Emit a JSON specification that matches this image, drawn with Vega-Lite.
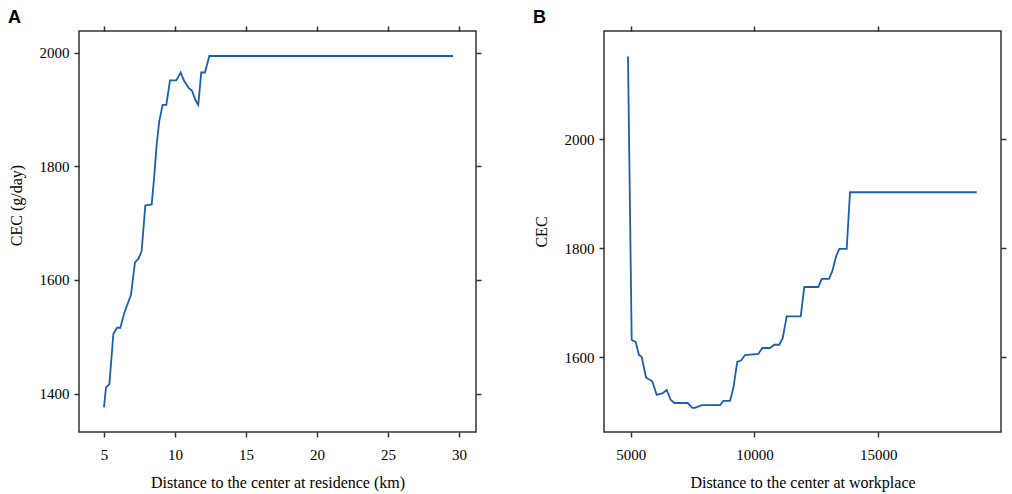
{
  "$schema": "https://vega.github.io/schema/vega-lite/v6.json",
  "background": "white",
  "padding": {"left": 7, "top": 8, "right": 5, "bottom": 2},
  "spacing": 49,
  "config": {
    "font": "Liberation Serif",
    "view": {"stroke": "#333333", "strokeWidth": 1.5},
    "axis": {
      "domain": false,
      "grid": false,
      "tickColor": "#333333",
      "tickWidth": 1.5,
      "tickSize": 5,
      "labelFont": "Liberation Serif",
      "labelFontSize": 15,
      "labelColor": "#000000",
      "labelPadding": 5,
      "titleFont": "Liberation Serif",
      "titleFontSize": 16,
      "titleFontWeight": "normal",
      "titleColor": "#000000"
    },
    "axisX": {"labelPadding": 10, "titlePadding": 12},
    "axisY": {"titlePadding": 15},
    "title": {"font": "Liberation Sans", "fontSize": 18, "fontWeight": "bold", "anchor": "start", "frame": "bounds", "color": "#000000", "offset": -2}
  },
  "datasets": {
    "residence": [
      {"distance": 5, "cec": 1376},
      {"distance": 5.14, "cec": 1411},
      {"distance": 5.38, "cec": 1417},
      {"distance": 5.66, "cec": 1505},
      {"distance": 5.92, "cec": 1516},
      {"distance": 6.15, "cec": 1516},
      {"distance": 6.43, "cec": 1542},
      {"distance": 6.9, "cec": 1574},
      {"distance": 7.18, "cec": 1631},
      {"distance": 7.42, "cec": 1637},
      {"distance": 7.65, "cec": 1651},
      {"distance": 7.91, "cec": 1731},
      {"distance": 8.36, "cec": 1733},
      {"distance": 8.54, "cec": 1783},
      {"distance": 8.71, "cec": 1838},
      {"distance": 8.89, "cec": 1879},
      {"distance": 9.13, "cec": 1908},
      {"distance": 9.39, "cec": 1908},
      {"distance": 9.65, "cec": 1951},
      {"distance": 10.09, "cec": 1951},
      {"distance": 10.4, "cec": 1965},
      {"distance": 10.65, "cec": 1950},
      {"distance": 10.96, "cec": 1938},
      {"distance": 11.2, "cec": 1933},
      {"distance": 11.43, "cec": 1917},
      {"distance": 11.64, "cec": 1908},
      {"distance": 11.85, "cec": 1965},
      {"distance": 12.11, "cec": 1965},
      {"distance": 12.42, "cec": 1994},
      {"distance": 29.58, "cec": 1994}
    ],
    "workplace": [
      {"distance": 4891, "cec": 2152},
      {"distance": 5040, "cec": 1632},
      {"distance": 5202, "cec": 1628},
      {"distance": 5335, "cec": 1604},
      {"distance": 5444, "cec": 1601},
      {"distance": 5618, "cec": 1563},
      {"distance": 5873, "cec": 1556},
      {"distance": 6050, "cec": 1531},
      {"distance": 6292, "cec": 1534},
      {"distance": 6454, "cec": 1540},
      {"distance": 6615, "cec": 1522},
      {"distance": 6761, "cec": 1516},
      {"distance": 7302, "cec": 1516},
      {"distance": 7488, "cec": 1507},
      {"distance": 7597, "cec": 1507},
      {"distance": 7868, "cec": 1512},
      {"distance": 8607, "cec": 1512},
      {"distance": 8740, "cec": 1520},
      {"distance": 9011, "cec": 1520},
      {"distance": 9144, "cec": 1543},
      {"distance": 9305, "cec": 1592},
      {"distance": 9455, "cec": 1594},
      {"distance": 9616, "cec": 1604},
      {"distance": 10154, "cec": 1606},
      {"distance": 10315, "cec": 1617},
      {"distance": 10626, "cec": 1617},
      {"distance": 10800, "cec": 1623},
      {"distance": 11002, "cec": 1623},
      {"distance": 11139, "cec": 1635},
      {"distance": 11300, "cec": 1675},
      {"distance": 11866, "cec": 1675},
      {"distance": 12012, "cec": 1729},
      {"distance": 12577, "cec": 1729},
      {"distance": 12714, "cec": 1744},
      {"distance": 13009, "cec": 1744},
      {"distance": 13142, "cec": 1758},
      {"distance": 13292, "cec": 1785},
      {"distance": 13425, "cec": 1799},
      {"distance": 13724, "cec": 1799},
      {"distance": 13857, "cec": 1903},
      {"distance": 18974, "cec": 1903}
    ]
  },
  "hconcat": [
    {
      "title": {"text": "A"},
      "width": 397,
      "height": 401,
      "data": {"name": "residence"},
      "layer": [
        {
          "mark": {"type": "line", "color": "#1c5fae", "strokeWidth": 1.8},
          "encoding": {
            "x": {"field": "distance", "type": "quantitative",
              "scale": {"domain": [3.24, 31.2], "nice": false, "zero": false},
              "axis": {"values": [5, 10, 15, 20, 25, 30], "title": "Distance to the center at residence (km)"}},
            "y": {"field": "cec", "type": "quantitative",
              "scale": {"domain": [1332.6, 2038], "nice": false, "zero": false},
              "axis": {"values": [1400, 1600, 1800, 2000], "format": "d", "title": "CEC (g/day)", "titleY": 174}}
          }
        },
        {
          "mark": {"type": "point", "opacity": 0},
          "encoding": {
            "x": {"field": "distance", "type": "quantitative",
              "scale": {"domain": [3.24, 31.2], "nice": false, "zero": false},
              "axis": {"orient": "top", "values": [5, 10, 15, 20, 25, 30], "labels": false, "title": null}},
            "y": {"field": "cec", "type": "quantitative",
              "scale": {"domain": [1332.6, 2038], "nice": false, "zero": false},
              "axis": {"orient": "right", "values": [1400, 1600, 1800, 2000], "labels": false, "title": null}}
          }
        }
      ],
      "resolve": {"axis": {"x": "independent", "y": "independent"}}
    },
    {
      "title": {"text": "B"},
      "width": 397,
      "height": 401,
      "data": {"name": "workplace"},
      "layer": [
        {
          "mark": {"type": "line", "color": "#1c5fae", "strokeWidth": 1.8},
          "encoding": {
            "x": {"field": "distance", "type": "quantitative",
              "scale": {"domain": [3922, 19955], "nice": false, "zero": false},
              "axis": {"values": [5000, 10000, 15000], "format": "d", "title": "Distance to the center at workplace"}},
            "y": {"field": "cec", "type": "quantitative",
              "scale": {"domain": [1462.8, 2199], "nice": false, "zero": false},
              "axis": {"values": [1600, 1800, 2000], "format": "d", "title": "CEC"}}
          }
        },
        {
          "mark": {"type": "point", "opacity": 0},
          "encoding": {
            "x": {"field": "distance", "type": "quantitative",
              "scale": {"domain": [3922, 19955], "nice": false, "zero": false},
              "axis": {"orient": "top", "values": [5000, 10000, 15000], "labels": false, "title": null}},
            "y": {"field": "cec", "type": "quantitative",
              "scale": {"domain": [1462.8, 2199], "nice": false, "zero": false},
              "axis": {"orient": "right", "values": [1600, 1800, 2000], "labels": false, "title": null}}
          }
        }
      ],
      "resolve": {"axis": {"x": "independent", "y": "independent"}}
    }
  ]
}
